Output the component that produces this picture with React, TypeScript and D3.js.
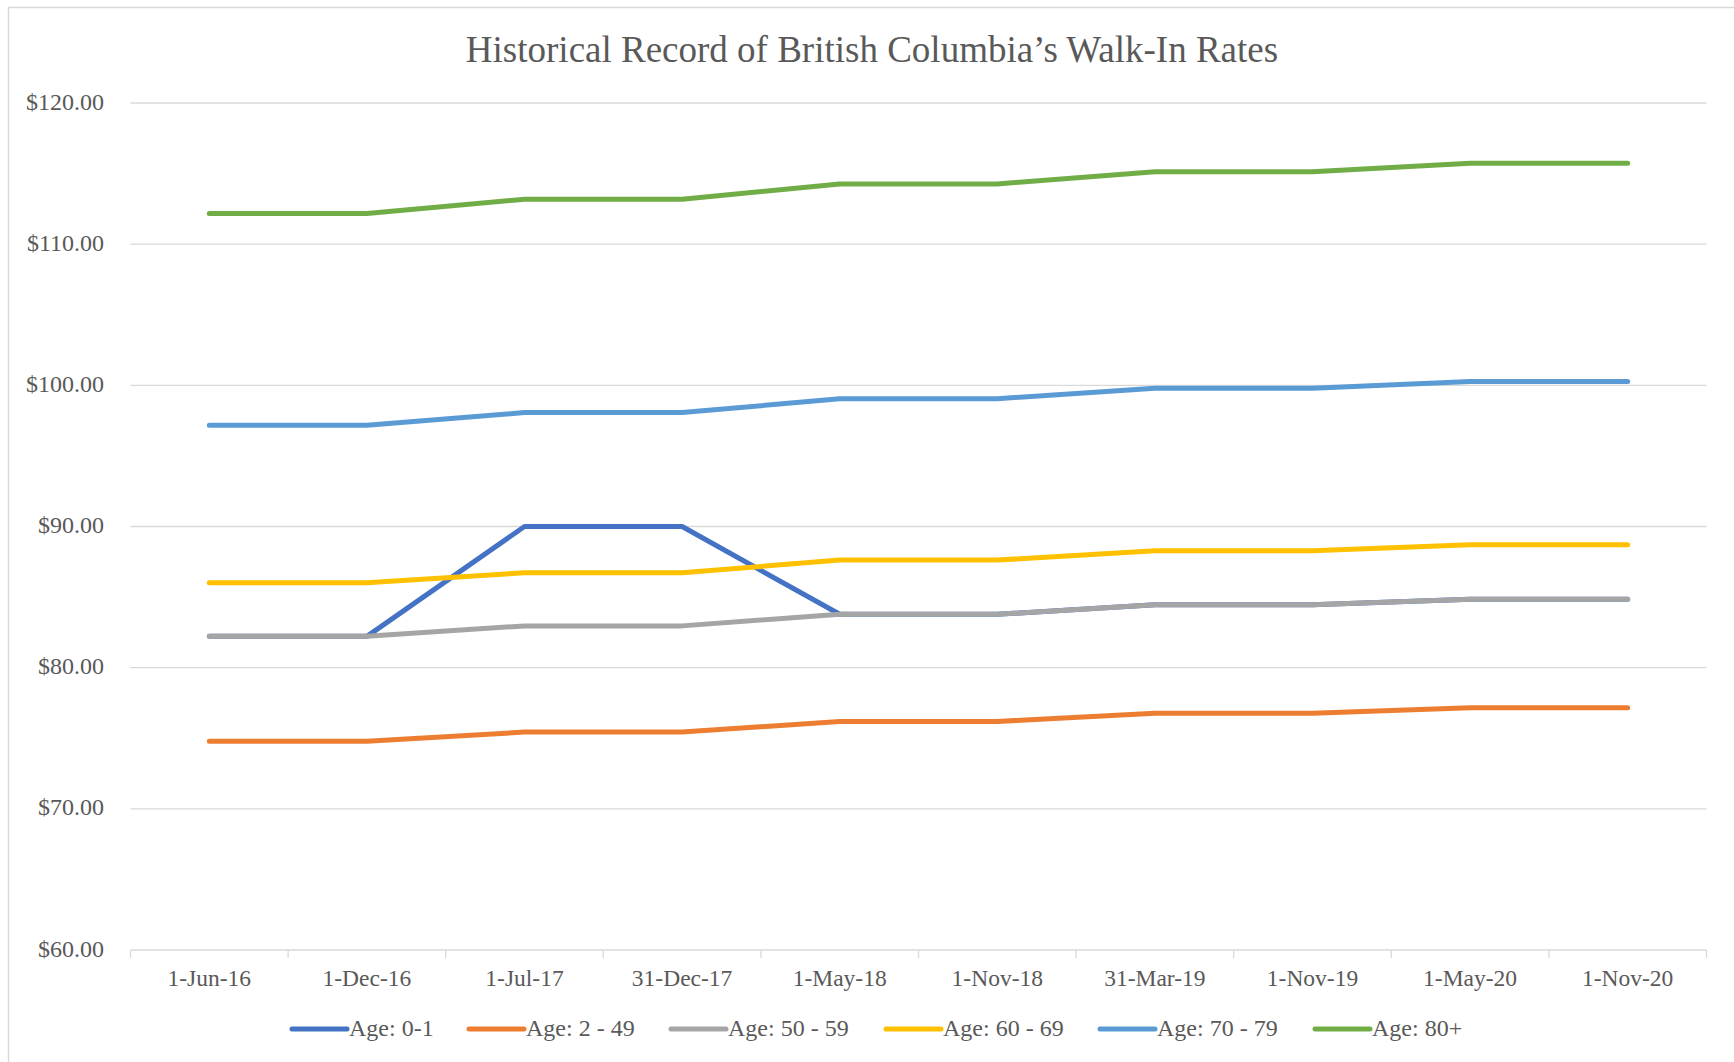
import React from "react";
import * as d3 from "d3";

const categories = ["1-Jun-16", "1-Dec-16", "1-Jul-17", "31-Dec-17", "1-May-18", "1-Nov-18", "31-Mar-19", "1-Nov-19", "1-May-20", "1-Nov-20"];
const seriesNames = ["Age: 0-1", "Age: 2 - 49", "Age: 50 - 59", "Age: 60 - 69", "Age: 70 - 79", "Age: 80+"];
const age0to1 = [82.22, 82.22, 90.0, 90.0, 83.78, 83.78, 84.45, 84.45, 84.84, 84.84];
const age2to49 = [74.78, 74.78, 75.44, 75.44, 76.19, 76.19, 76.77, 76.77, 77.16, 77.16];
const age50to59 = [82.22, 82.22, 82.96, 82.96, 83.78, 83.78, 84.45, 84.45, 84.84, 84.84];
const age60to69 = [86.01, 86.01, 86.72, 86.72, 87.62, 87.62, 88.28, 88.28, 88.71, 88.71];
const age70to79 = [97.17, 97.17, 98.07, 98.07, 99.05, 99.05, 99.8, 99.8, 100.27, 100.27];
const age80plus = [112.17, 112.17, 113.18, 113.18, 114.27, 114.27, 115.13, 115.13, 115.73, 115.73];
const yTicks = [60, 70, 80, 90, 100, 110, 120];
const colors = ["#4472C4", "#ED7D31", "#A5A5A5", "#FFC000", "#5B9BD5", "#70AD47"];

const W = 1734;
const H = 1062;
const M = { left: 130.5, right: 1706.5, top: 103, bottom: 950 };
const legendX = [292, 469, 671, 886, 1100, 1315];
const FONT = "'Liberation Serif', 'Times New Roman', serif";

export default function App() {
  const series = [age0to1, age2to49, age50to59, age60to69, age70to79, age80plus];
  const x = d3.scaleBand<string>().domain(categories).range([M.left, M.right]);
  const y = d3.scaleLinear().domain([60, 120]).range([M.bottom, M.top]);
  const cx = (c: string) => (x(c) ?? 0) + x.bandwidth() / 2;
  const line = d3
    .line<number>()
    .x((_, i) => cx(categories[i]))
    .y((d) => y(d));
  const boundaries = categories.map((c) => x(c) ?? 0).concat([M.right]);

  return (
    <svg
      width={W}
      height={H}
      style={{ position: "absolute", left: 0, top: 0, background: "#fff" }}
      fontFamily={FONT}
    >
      <rect x={0} y={0} width={W} height={H} fill="#fff" />
      <rect x={8.5} y={7.5} width={W + 20} height={H + 20} fill="none" stroke="#d9d9d9" strokeWidth={1.5} />
      <text x={872} y={62} textAnchor="middle" fontSize={37} fill="#595959">
        Historical Record of British Columbia’s Walk-In Rates
      </text>
      {yTicks.map((t) => (
        <g key={t}>
          {t !== 60 && (
            <line x1={M.left} x2={M.right} y1={y(t)} y2={y(t)} stroke="#d9d9d9" strokeWidth={1.3} />
          )}
          <text x={104} y={y(t) + 1} textAnchor="end" dominantBaseline="middle" fontSize={24} fill="#595959">
            {"$" + t.toFixed(2)}
          </text>
        </g>
      ))}
      <line x1={M.left} x2={M.right} y1={M.bottom} y2={M.bottom} stroke="#d9d9d9" strokeWidth={1.3} />
      {boundaries.map((b, i) => (
        <line key={i} x1={b} x2={b} y1={M.bottom} y2={M.bottom + 8} stroke="#d9d9d9" strokeWidth={1.3} />
      ))}
      {categories.map((c) => (
        <text key={c} x={cx(c)} y={986} textAnchor="middle" fontSize={23.5} fill="#595959">
          {c}
        </text>
      ))}
      {series.map((s, i) => (
        <path
          key={seriesNames[i]}
          d={line(s) ?? ""}
          fill="none"
          stroke={colors[i]}
          strokeWidth={5}
          strokeLinecap="round"
          strokeLinejoin="round"
        />
      ))}
      {seriesNames.map((n, i) => (
        <g key={n}>
          <line x1={legendX[i]} x2={legendX[i] + 55} y1={1029} y2={1029} stroke={colors[i]} strokeWidth={5} strokeLinecap="round" />
          <text x={legendX[i] + 57} y={1030} dominantBaseline="middle" fontSize={24} fill="#595959">
            {n}
          </text>
        </g>
      ))}
    </svg>
  );
}
